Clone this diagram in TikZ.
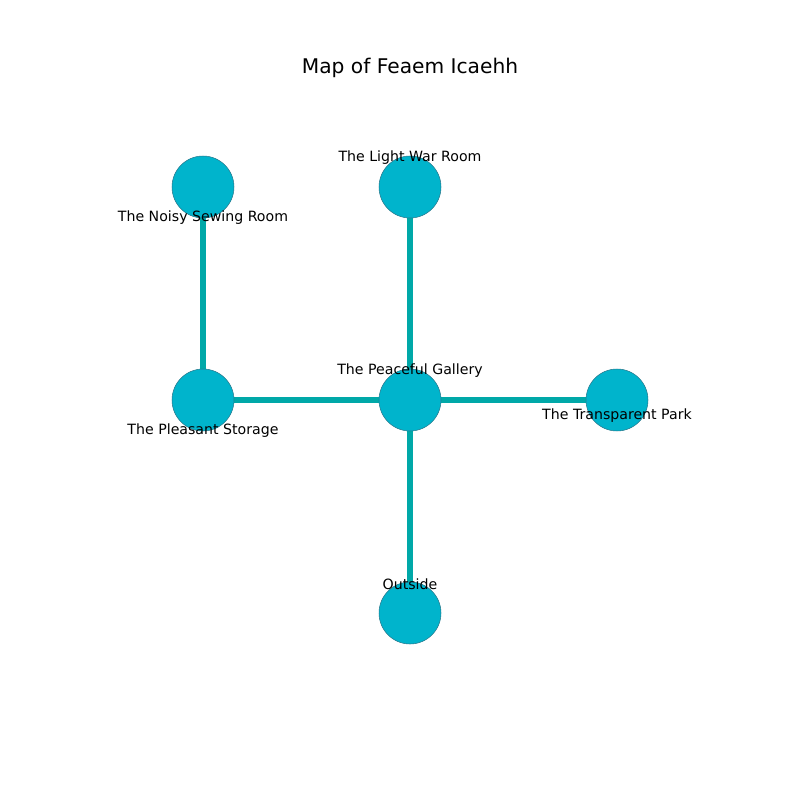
\documentclass[tikz,border=0pt]{standalone}
\usepackage{fontspec}
\setmainfont{DejaVu Sans}
\usetikzlibrary{positioning}

\begin{document}
\begin{tikzpicture}[x=0.02cm, y=-0.02cm]

      % Define colours and sizes
      \definecolor{roomfill}{RGB}{0,180,204}
      \definecolor{roomline}{RGB}{40,120,140}
      \definecolor{hallcol}{RGB}{0,168,168}
      \tikzset{
        room/.style={circle, fill=roomfill, draw=roomline, line width=0.3pt, minimum size=1.24cm, inner sep=0pt},
        hall/.style={hallcol, line width=3pt},
        tag/.style={font=\fontsize{8.05}{9}\selectfont, inner sep=0pt}
      }

      % Fix the page
      \useasboundingbox (0,0) rectangle (800,800);

      % Room positions
      \coordinate (sewing) at (203,187);
      \coordinate (war) at (410,187);
      \coordinate (storage) at (203,400);
      \coordinate (gallery) at (410,400);
      \coordinate (park) at (617,400);
      \coordinate (outside) at (410,613);

      % Draw the halls
      \draw[hall] (sewing) -- (storage);
      \draw[hall] (war) -- (gallery);
      \draw[hall] (storage) -- (gallery);
      \draw[hall] (gallery) -- (park);
      \draw[hall] (gallery) -- (outside);

      % Draw the rooms
      \foreach \r in {sewing, war, storage, gallery, park, outside}
        \node[room] (\r-c) at (\r) {};

      % Room names
      \node[tag] (war-t) at (410,158) {The Light War Room};
      \node[tag] (sewing-t) at (203,218) {The Noisy Sewing Room};
      \node[tag] (gallery-t) at (410,371) {The Peaceful Gallery};
      \node[tag] (storage-t) at (203,431) {The Pleasant Storage};
      \node[tag] (park-t) at (617,416) {The Transparent Park};
      \node[tag] (outside-t) at (410,584) {Outside};

      \node[font=\fontsize{11.5}{13}\selectfont, inner sep=0pt] (title) at (410,68) {Map of Feaem Icaehh};
    \end{tikzpicture}
\end{document}
